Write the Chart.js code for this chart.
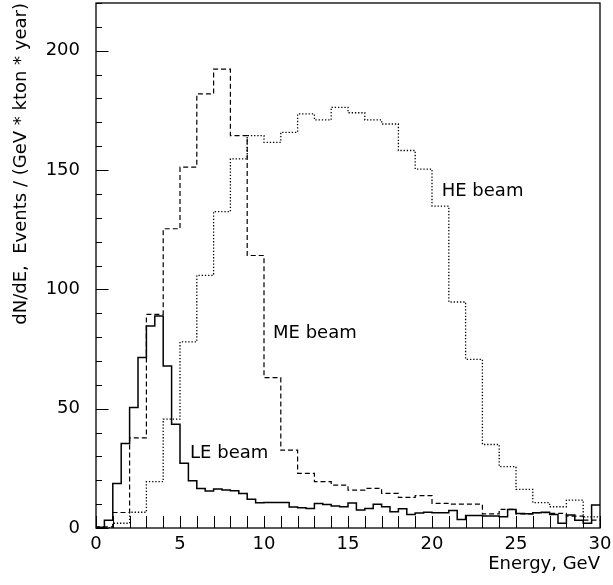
<!DOCTYPE html>
<html>
<head>
<meta charset="utf-8">
<script src="https://cdn.jsdelivr.net/npm/chart.js@4.4.0/dist/chart.umd.min.js"></script>
<style>
  html, body { margin: 0; padding: 0; background: #fff; }
  canvas { display: block; }
</style>
</head>
<body>
<canvas id="spectraChart" width="613" height="585"></canvas>
<script>
// bin widths in GeV
const leBin = 0.5;
const meBin = 1;
const heBin = 1;

// dN/dE per bin
const leValues = [
  0.3, 3.2, 18.7, 35.4, 50.5, 71.4, 84.7, 88.8, 67.9, 43.5,
  27.1, 19.8, 16.6, 15.5, 16.3, 15.9, 15.6, 14.5, 12.0, 10.6,
  10.7, 10.7, 10.7, 8.8, 8.5, 8.2, 10.3, 9.8, 9.2, 8.9,
  10.5, 7.5, 8.2, 10.0, 8.9, 6.8, 8.1, 5.7, 6.3, 6.6,
  6.4, 6.4, 7.3, 3.6, 5.2, 5.2, 5.0, 5.0, 4.7, 7.8,
  6.1, 6.0, 6.4, 6.6, 5.7, 2.0, 5.4, 3.3, 2.0, 9.6
];
const meValues = [
  0.5, 6.5, 37.8, 89.5, 125.4, 151.2, 181.9, 192.3, 164.4, 114.2,
  63.0, 32.6, 22.9, 19.4, 18.0, 15.9, 16.6, 14.5, 12.8, 13.6,
  10.3, 10.0, 10.0, 5.9, 7.8, 5.9, 6.4, 6.1, 5.0, 3.3
];
const heValues = [
  0.0, 2.0, 6.6, 19.4, 45.6, 78.0, 105.9, 132.6, 154.7, 164.4,
  161.6, 165.8, 173.5, 171.0, 176.3, 174.0, 171.0, 169.3, 158.2, 150.4,
  134.9, 94.7, 70.7, 35.0, 25.7, 16.2, 10.6, 8.9, 11.7, 4.7
];

const xTicks = [0, 5, 10, 15, 20, 25, 30];
const yTicks = [0, 50, 100, 150, 200];

const beamLabels = ["LE beam", "ME beam", "HE beam"];
const labelAt = [[5.6, 29.3], [10.54, 79.5], [20.58, 139.3]];

// histogram -> points at bin edges, value held across each bin
function histPoints(values, bin) {
  const pts = [{ x: 0, y: 0 }];
  values.forEach((v, i) => pts.push({ x: (i + 1) * bin, y: v }));
  return pts;
}

const font = "'DejaVu Sans', sans-serif";

const frameAndTicks = {
  id: "frameAndTicks",
  afterDatasetsDraw(chart) {
    const { ctx, chartArea: a, scales: { x, y } } = chart;
    ctx.save();
    ctx.strokeStyle = "#000";
    ctx.lineWidth = 1;
    ctx.beginPath();
    // inward ticks, y every 10, x every 1
    for (let v = 0; v <= 220; v += 10) {
      const py = Math.round(y.getPixelForValue(v)) + 0.5;
      const len = v % 50 === 0 ? 12.5 : 6;
      ctx.moveTo(a.left, py);
      ctx.lineTo(a.left + len, py);
    }
    for (let v = 0; v <= 30; v += 1) {
      const px = Math.round(x.getPixelForValue(v)) + 0.5;
      ctx.moveTo(px, a.bottom);
      ctx.lineTo(px, a.bottom - 12);
    }
    ctx.stroke();
    ctx.lineWidth = 1.3;
    ctx.strokeRect(a.left, a.top, a.right - a.left, a.bottom - a.top);

    ctx.fillStyle = "#000";
    ctx.font = "18px " + font;
    ctx.textBaseline = "alphabetic";
    beamLabels.forEach((t, i) => {
      ctx.fillText(t, x.getPixelForValue(labelAt[i][0]), y.getPixelForValue(labelAt[i][1]));
    });
    ctx.restore();
  }
};

function noPad(scale) {
  scale.paddingTop = 0;
  scale.paddingBottom = 0;
  scale.paddingLeft = 0;
  scale.paddingRight = 0;
}

const ctx = document.getElementById("spectraChart").getContext("2d");
const spectraChart = new Chart(ctx, {
  type: "line",
  data: {
    datasets: [
      {
        label: "LE beam",
        data: histPoints(leValues, leBin),
        stepped: "after",
        borderColor: "#000",
        borderWidth: 1.5,
        pointRadius: 0,
        fill: false
      },
      {
        label: "ME beam",
        data: histPoints(meValues, meBin),
        stepped: "after",
        borderColor: "#000",
        borderWidth: 1.2,
        borderDash: [5, 3],
        pointRadius: 0,
        fill: false
      },
      {
        label: "HE beam",
        data: histPoints(heValues, heBin),
        stepped: "after",
        borderColor: "#000",
        borderWidth: 1.3,
        borderDash: [1.3, 1.9],
        pointRadius: 0,
        fill: false
      }
    ]
  },
  options: {
    responsive: false,
    animation: false,
    layout: { padding: { top: 3, right: 13, left: 0, bottom: 0 } },
    plugins: {
      legend: { display: false },
      tooltip: { enabled: false }
    },
    scales: {
      x: {
        type: "linear",
        min: 0,
        max: 30,
        afterFit(scale) { scale.height = 57; noPad(scale); },
        afterBuildTicks(scale) { scale.ticks = xTicks.map(v => ({ value: v })); },
        grid: { display: false, drawTicks: false },
        border: { display: false },
        ticks: { color: "#000", font: { family: font, size: 18 }, padding: 6, maxRotation: 0 },
        title: {
          display: true,
          text: "Energy, GeV",
          align: "end",
          color: "#000",
          font: { family: font, size: 18 },
          padding: { top: 0, bottom: 10 }
        }
      },
      y: {
        min: 0,
        max: 220,
        afterFit(scale) { scale.width = 96; noPad(scale); },
        afterBuildTicks(scale) { scale.ticks = yTicks.map(v => ({ value: v })); },
        grid: { display: false, drawTicks: false },
        border: { display: false },
        ticks: { color: "#000", font: { family: font, size: 18 }, padding: 16 },
        title: {
          display: true,
          text: "dN/dE,  Events / (GeV * kton * year)",
          align: "end",
          color: "#000",
          font: { family: font, size: 18 },
          padding: { top: 11, bottom: 0 }
        }
      }
    }
  },
  plugins: [frameAndTicks]
});
</script>
</body>
</html>
